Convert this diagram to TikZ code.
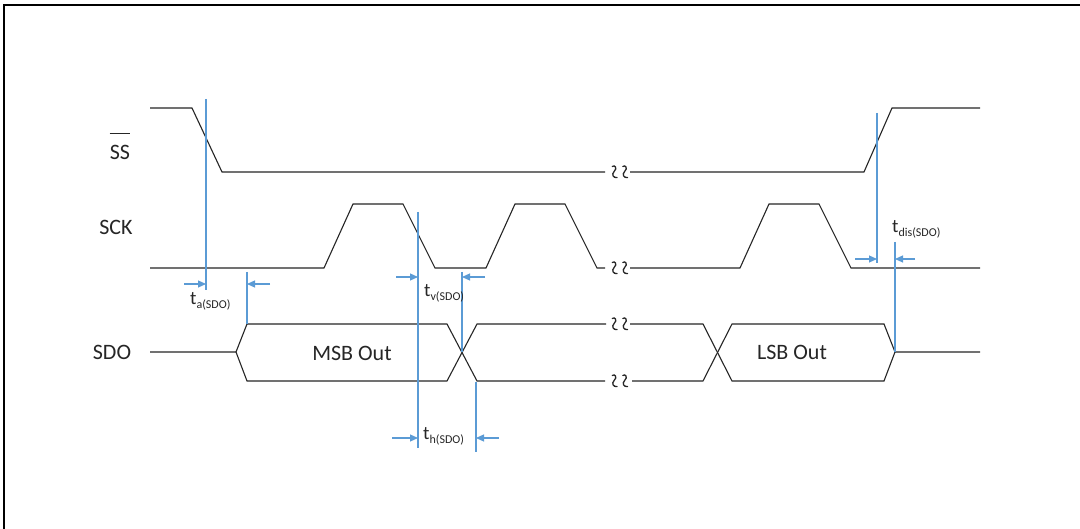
\documentclass[tikz,border=0pt]{standalone}
\usepackage{fontspec}
\setmainfont{Carlito}
\usetikzlibrary{arrows.meta,calc}
\definecolor{mblue}{HTML}{5B9BD5}
\definecolor{sig}{HTML}{262626}
\begin{document}
\begin{tikzpicture}[x=1pt,y=-1pt,
  sigline/.style={draw=sig,line width=1.1pt,line join=miter},
  mline/.style={draw=mblue,line width=1.1pt},
  marrow/.style={draw=mblue,line width=1.1pt,-{Triangle[length=8pt,width=7pt]}},
  lbl/.style={font=\fontsize{22}{26}\selectfont,inner sep=0pt,text=sig},
  tlbl/.style={inner sep=0pt,anchor=base west,text=sig},
  brk/.pic={\draw[draw=sig,line width=1.3pt,line cap=round]
     (-2.2,-5.5) .. controls (0,-7.5) and (3.5,-4) .. (-0.5,-0.3)
     .. controls (-3.2,2.2) and (-1.2,6.2) .. (2.6,5.6);}]
\useasboundingbox (0,0) rectangle (1080,529);
\fill[white] (0,0) rectangle (1080,529);
\draw[line width=1.5pt,black] (4,529) -- (4,5) -- (1080,5);

% signal labels
\node[lbl] (ssl) at (120,152) {SS};
\draw[draw=sig,line width=1pt] ($(ssl.north west)+(0,-11)$) -- ($(ssl.north east)+(0,-11)$);
\node[lbl] (sckl) at (116,227) {SCK};
\node[lbl] (sdol) at (112,352) {SDO};

% SS
\draw[sigline] (150,108) -- (192,108) -- (222,172) -- (605,172);
\draw[sigline] (630,172) -- (864,172) -- (892,108) -- (980,108);
% SCK
\draw[sigline] (150,268) -- (324,268) -- (353,204) -- (403,204) -- (435,268) -- (486,268) -- (515,204) -- (565,204) -- (597,268) -- (605,268);
\draw[sigline] (630,268) -- (740,268) -- (769,204) -- (819,204) -- (851,268) -- (980,268);
% SDO
\draw[sigline] (150,352) -- (236,352) -- (247,324) -- (447,324) -- (477,381) -- (605,381);
\draw[sigline] (236,352) -- (247,381) -- (447,381) -- (477,324) -- (606,324);
\draw[sigline] (630,324) -- (703,324) -- (732,381) -- (884,381) -- (895,352) -- (980,352);
\draw[sigline] (632,381) -- (703,381) -- (732,324) -- (884,324) -- (895,352);

% breaks
\foreach \yy in {172,268,324,381} {
  \pic at (614.5,\yy) {brk};
  \pic at (625,\yy) {brk};
}

% data labels
\node[lbl] (msb) at (352,353) {MSB Out};
\node[lbl] (lsb) at (792,352) {LSB Out};

% timing markers
\coordinate (a1) at (206,99);  \coordinate (a2) at (206,290);
\coordinate (b1) at (247,272); \coordinate (b2) at (247,324);
\coordinate (c1) at (418,212); \coordinate (c2) at (418,448);
\coordinate (d1) at (462,272); \coordinate (d2) at (462,352);
\coordinate (e1) at (476,382); \coordinate (e2) at (476,452);
\coordinate (f1) at (877,113); \coordinate (f2) at (877,263);
\coordinate (g1) at (895,242); \coordinate (g2) at (895,352);
\foreach \p in {a,b,c,d,e,f,g} { \draw[mline] (\p1) -- (\p2); }

\draw[marrow] (184,284) -- (206,284);
\draw[marrow] (270,284) -- (247,284);
\draw[marrow] (396,277) -- (418,277);
\draw[marrow] (485,277) -- (462,277);
\draw[marrow] (392,438) -- (418,438);
\draw[marrow] (499,438) -- (476,438);
\draw[marrow] (855,259) -- (877,259);
\draw[marrow] (915,259) -- (895,259);

\node[tlbl] (ta) at (190,305) {\fontsize{19}{22}\selectfont t\raisebox{-4pt}{\fontsize{12}{14}\selectfont a(SDO)}};
\node[tlbl] (tv) at (424,297) {\fontsize{19}{22}\selectfont t\raisebox{-4pt}{\fontsize{12}{14}\selectfont v(SDO)}};
\node[tlbl] (th) at (423,440) {\fontsize{19}{22}\selectfont t\raisebox{-4pt}{\fontsize{12}{14}\selectfont h(SDO)}};
\node[tlbl] (td) at (892,233) {\fontsize{19}{22}\selectfont t\raisebox{-4pt}{\fontsize{12}{14}\selectfont dis(SDO)}};
\end{tikzpicture}
\end{document}
